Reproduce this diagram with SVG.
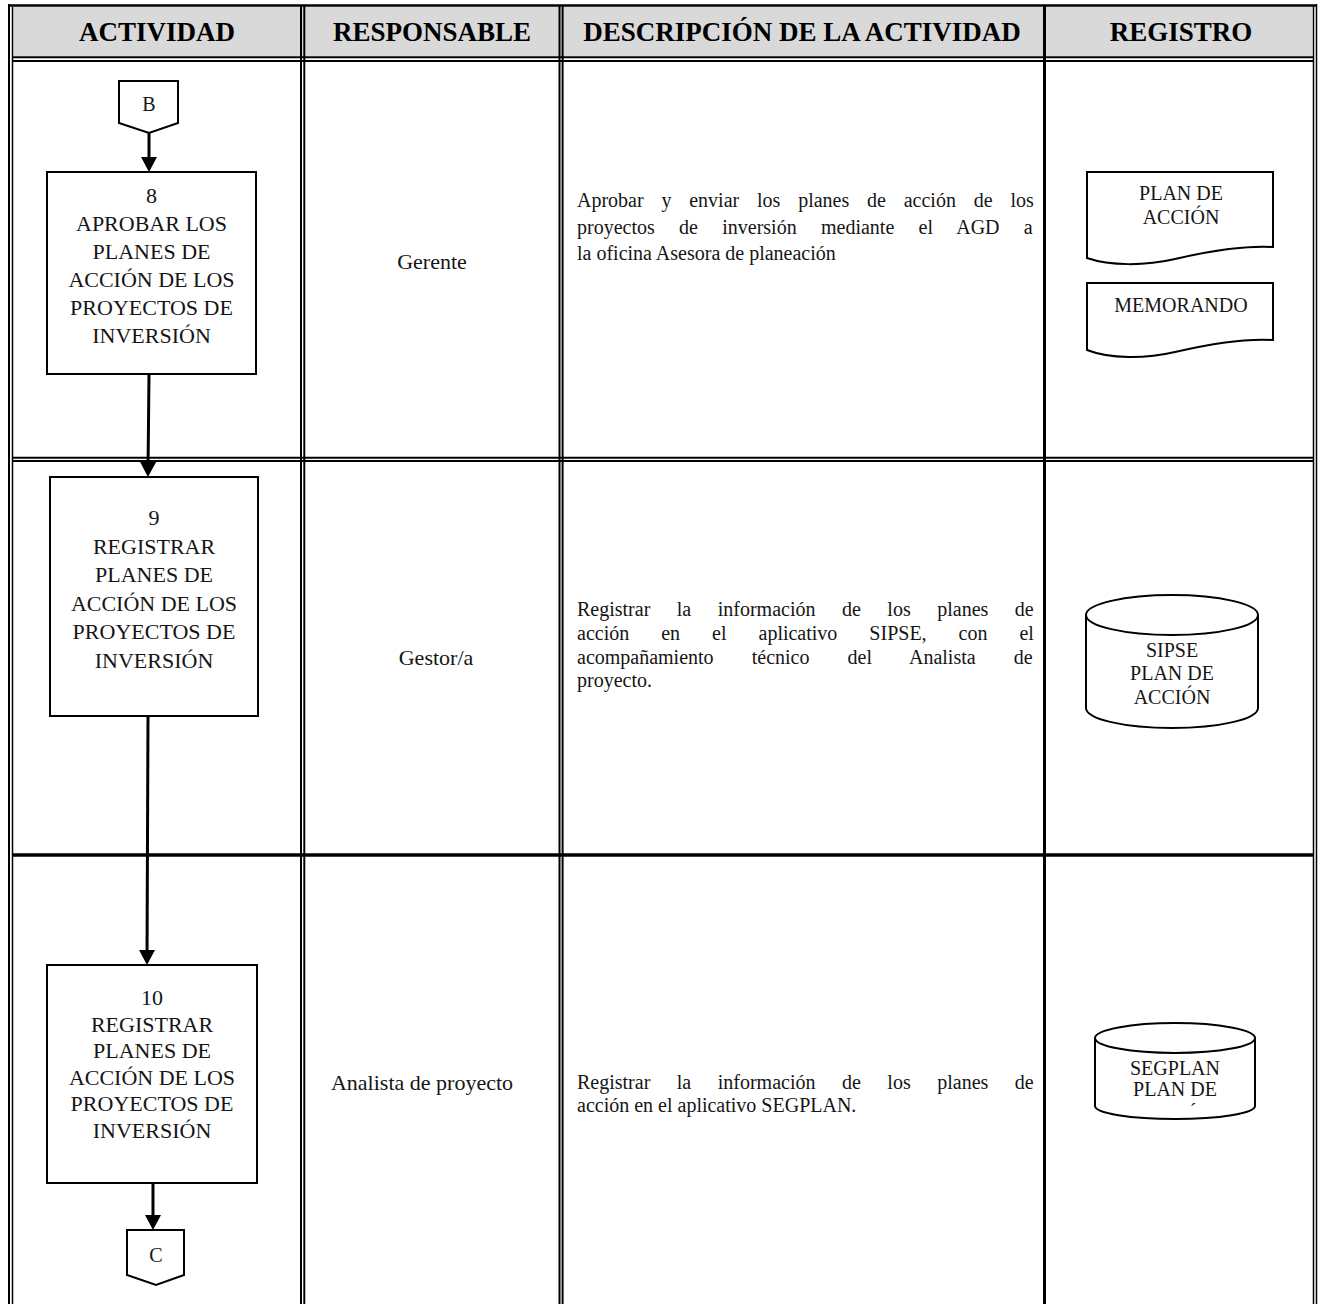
<svg xmlns="http://www.w3.org/2000/svg" width="1320" height="1304" viewBox="0 0 1320 1304">
<style>
.ln{stroke:#000;fill:none}
.h{font-family:"Liberation Serif","Times New Roman",serif;font-size:27px;font-weight:bold;fill:#000;text-anchor:middle}
.t{font-family:"Liberation Serif","Times New Roman",serif;font-size:20px;fill:#151515}
.m{text-anchor:middle}
.bl{font-size:22px}
.rs{font-size:22px}
.shape{fill:#fff;stroke:#000;stroke-width:2}
.conn{stroke:#000;stroke-width:3;fill:none}
</style>
<defs>
<marker id="ah" markerUnits="userSpaceOnUse" markerWidth="15" markerHeight="16" viewBox="0 0 15 16" refX="9" refY="8" orient="auto">
<path d="M0,0 L15,8 L0,16 Z" fill="#000"/>
</marker>
</defs>
<rect x="0" y="0" width="1320" height="1304" fill="#fff"/>
<g id="table">
<rect x="13.5" y="7" width="1299" height="49" fill="#d9d9d9"/>
<g class="ln">
<line x1="8" y1="5.5" x2="1317" y2="5.5" stroke-width="2.6"/>
<line x1="9" y1="4" x2="9" y2="1304" stroke-width="2"/>
<line x1="12.5" y1="7" x2="12.5" y2="1304" stroke-width="1.5"/>
<line x1="1313.5" y1="5" x2="1313.5" y2="1304" stroke-width="1.5"/>
<line x1="1316.5" y1="4" x2="1316.5" y2="1304" stroke-width="1.5"/>
<line x1="12" y1="57.2" x2="1314" y2="57.2" stroke-width="2"/>
<line x1="12" y1="61" x2="1314" y2="61" stroke-width="2"/>
<line x1="301" y1="6" x2="301" y2="1304" stroke-width="2"/>
<line x1="304.3" y1="6" x2="304.3" y2="1304" stroke-width="2"/>
<line x1="559.5" y1="6" x2="559.5" y2="1304" stroke-width="2"/>
<line x1="562.6" y1="6" x2="562.6" y2="1304" stroke-width="2"/>
<line x1="1044.5" y1="6" x2="1044.5" y2="1304" stroke-width="3"/>
<line x1="12" y1="457.7" x2="1314" y2="457.7" stroke-width="2"/>
<line x1="12" y1="461" x2="1314" y2="461" stroke-width="2"/>
<line x1="12" y1="855" x2="1314" y2="855" stroke-width="3.5"/>
</g>
<text class="h" x="157" y="41">ACTIVIDAD</text>
<text class="h" x="432" y="41">RESPONSABLE</text>
<text class="h" x="802" y="41">DESCRIPCIÓN DE LA ACTIVIDAD</text>
<text class="h" x="1181" y="41">REGISTRO</text>
<text class="t m rs" x="432" y="269">Gerente</text>
<text class="t m rs" x="436" y="665">Gestor/a</text>
<text class="t m rs" x="422" y="1090">Analista de proyecto</text>
<text class="t" x="577" y="207" word-spacing="12.8">Aprobar y enviar los planes de acción de los</text>
<text class="t" x="577" y="233.5" word-spacing="19.3">proyectos de inversión mediante el AGD a</text>
<text class="t" x="577" y="260">la oficina Asesora de planeación</text>
<text class="t" x="577" y="616" word-spacing="21.5">Registrar la información de los planes de</text>
<text class="t" x="577" y="640" word-spacing="27">acción en el aplicativo SIPSE, con el</text>
<text class="t" x="577" y="663.5" word-spacing="33.1">acompañamiento técnico del Analista de</text>
<text class="t" x="577" y="687">proyecto.</text>
<text class="t" x="577" y="1089" word-spacing="21.5">Registrar la información de los planes de</text>
<text class="t" x="577" y="1112">acción en el aplicativo SEGPLAN.</text>
</g>
<g id="connectors">
<line class="conn" x1="149" y1="133" x2="149" y2="166" marker-end="url(#ah)"/>
<line class="conn" x1="149" y1="374" x2="148" y2="471" marker-end="url(#ah)"/>
<line class="conn" x1="148" y1="716" x2="147" y2="959" marker-end="url(#ah)"/>
<line class="conn" x1="153" y1="1183" x2="153" y2="1224" marker-end="url(#ah)"/>
</g>
<g id="connector-B">
<path class="shape" d="M119,81 H178 V123 L149,133 L119,123 Z"/>
<text class="t m" x="149" y="111">B</text>
</g>
<g id="activity-8">
<rect class="shape" x="47" y="172" width="209" height="202"/>
<text class="t m bl" x="151.5" y="203">8</text>
<text class="t m bl" x="151.5" y="231">APROBAR LOS</text>
<text class="t m bl" x="151.5" y="259">PLANES DE</text>
<text class="t m bl" x="151.5" y="287">ACCIÓN DE LOS</text>
<text class="t m bl" x="151.5" y="315">PROYECTOS DE</text>
<text class="t m bl" x="151.5" y="343">INVERSIÓN</text>
</g>
<g id="activity-9">
<rect class="shape" x="50" y="477" width="208" height="239"/>
<text class="t m bl" x="154" y="525">9</text>
<text class="t m bl" x="154" y="553.5">REGISTRAR</text>
<text class="t m bl" x="154" y="582">PLANES DE</text>
<text class="t m bl" x="154" y="610.5">ACCIÓN DE LOS</text>
<text class="t m bl" x="154" y="639">PROYECTOS DE</text>
<text class="t m bl" x="154" y="667.5">INVERSIÓN</text>
</g>
<g id="activity-10">
<rect class="shape" x="47" y="965" width="210" height="218"/>
<text class="t m bl" x="152" y="1005">10</text>
<text class="t m bl" x="152" y="1031.6">REGISTRAR</text>
<text class="t m bl" x="152" y="1058.2">PLANES DE</text>
<text class="t m bl" x="152" y="1084.8">ACCIÓN DE LOS</text>
<text class="t m bl" x="152" y="1111.4">PROYECTOS DE</text>
<text class="t m bl" x="152" y="1138">INVERSIÓN</text>
</g>
<g id="connector-C">
<path class="shape" d="M127,1230 H184 V1275 L156,1285 L127,1275 Z"/>
<text class="t m" x="156" y="1262">C</text>
</g>
<g id="doc-plan">
<path class="shape" d="M1087,172 H1273 V247 C1240,245 1205,252 1175,259 C1145,266 1110,266 1087,258 Z"/>
<text class="t m" x="1181" y="199.5">PLAN DE</text>
<text class="t m" x="1181" y="223.5">ACCIÓN</text>
</g>
<g id="doc-memo">
<path class="shape" d="M1087,283 H1273 V340 C1240,338 1205,345 1175,352 C1145,359 1110,359 1087,350 Z"/>
<text class="t m" x="1181" y="312">MEMORANDO</text>
</g>
<g id="db-sipse">
<path class="shape" d="M1086,615 V708 A86,20 0 0 0 1258,708 V615"/>
<ellipse class="shape" cx="1172" cy="615" rx="86" ry="20"/>
<text class="t m" x="1172" y="656.5">SIPSE</text>
<text class="t m" x="1172" y="680">PLAN DE</text>
<text class="t m" x="1172" y="704">ACCIÓN</text>
</g>
<g id="db-segplan">
<path class="shape" d="M1095,1038 V1106 A80,13 0 0 0 1255,1106 V1038"/>
<ellipse class="shape" cx="1175" cy="1038" rx="80" ry="15"/>
<text class="t m" x="1175" y="1074.5">SEGPLAN</text>
<text class="t m" x="1175" y="1095.5">PLAN DE</text>
<text class="t m" x="1193" y="1118" font-size="16">´</text>
</g>
</svg>
